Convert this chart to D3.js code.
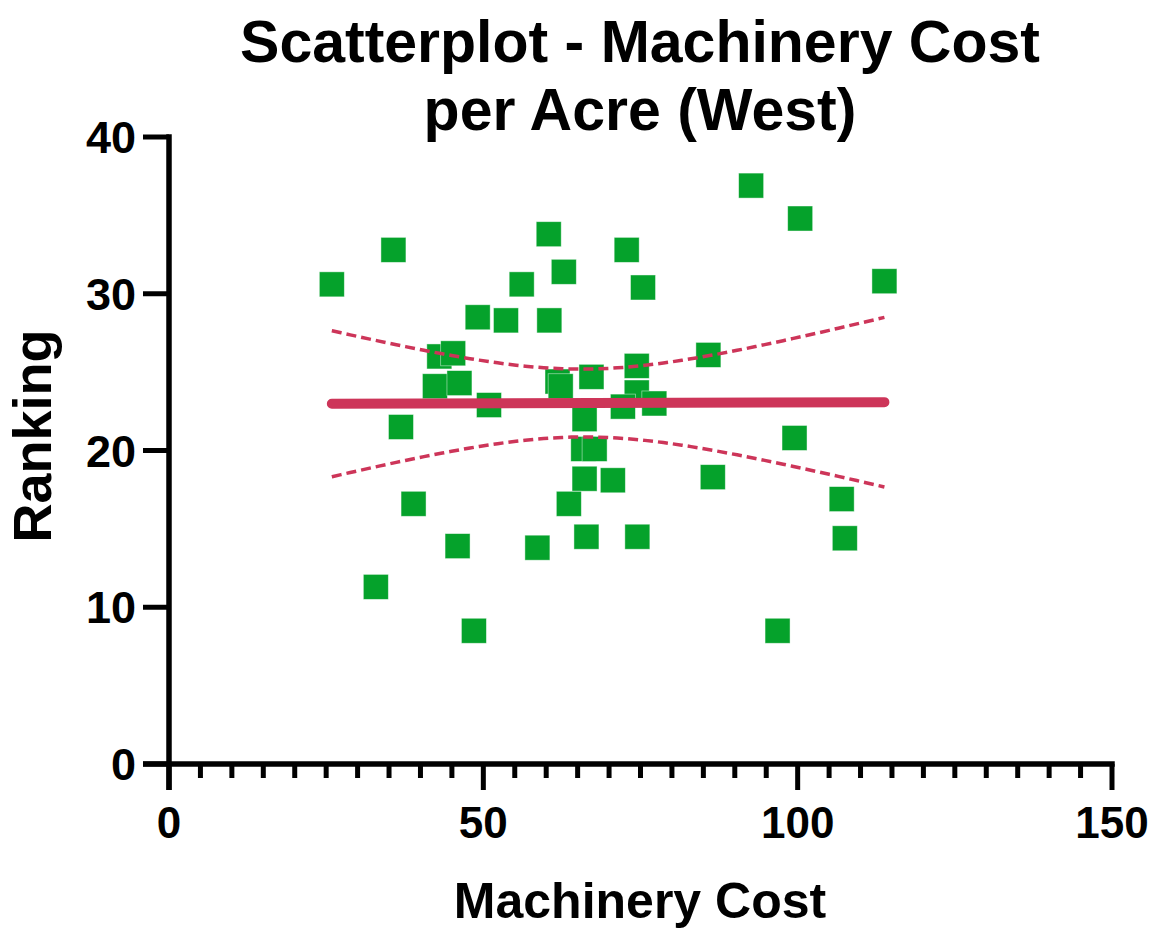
<!DOCTYPE html>
<html>
<head>
<meta charset="utf-8">
<script src="https://cdn.jsdelivr.net/npm/d3@7"></script>
<style>
  html, body { margin: 0; padding: 0; background: #fff; }
  svg { display: block; }
  text { font-family: "Liberation Sans", Arial, Helvetica, sans-serif; font-weight: bold; fill: #000; }
</style>
</head>
<body>
<div id="chart"></div>
<script>
// Machinery cost per acre (x) vs ranking (y), West region
const machineryCost = [
  25.9, 35.7, 60.4, 62.8, 56.1, 49.1, 53.6, 60.5, 43.0, 45.2,
  42.3, 46.2, 50.9, 61.8, 62.3, 67.2, 36.9, 38.9, 45.9, 58.6,
  32.9, 48.5, 66.1, 65.9, 67.7, 66.1, 70.6, 63.6, 66.4, 92.6,
  100.4, 72.8, 75.4, 113.8, 85.8, 74.4, 74.4, 72.2, 77.2, 99.5,
  86.5, 107.0, 107.5, 96.8, 74.5
];
const ranking = [
  30.6, 32.8, 33.8, 31.4, 30.6, 28.5, 28.3, 28.3, 26.0, 26.2,
  24.1, 24.3, 22.9, 24.4, 24.1, 24.7, 21.5, 16.6, 13.9, 13.8,
  11.3, 8.5, 22.0, 20.1, 20.1, 18.2, 18.1, 16.6, 14.5, 36.9,
  34.8, 32.8, 30.4, 30.8, 26.1, 25.4, 23.7, 22.8, 23.0, 20.8,
  18.3, 16.9, 14.4, 8.5, 14.5
];
const xTickLabels = [0, 50, 100, 150];
const yTickLabels = [0, 10, 20, 30, 40];
const titleLines = ['Scatterplot - Machinery Cost', 'per Acre (West)'];

const width = 1159, height = 934;
const pointColor = '#05a22b';
const fitColor = '#cd3559';

const svg = d3.select('#chart').append('svg')
  .attr('width', width)
  .attr('height', height);

const x = d3.scaleLinear().domain([0, 150]).range([169, 1112]);
const y = d3.scaleLinear().domain([0, 40]).range([764, 137]);

// title
svg.append('text')
  .attr('x', 640).attr('y', 62)
  .attr('text-anchor', 'middle')
  .attr('font-size', 59)
  .selectAll('tspan')
  .data(titleLines)
  .join('tspan')
  .attr('x', 640)
  .attr('dy', (d, i) => i === 0 ? 0 : 68)
  .text(d => d);

// points
const points = machineryCost.map((v, i) => ({ x: v, y: ranking[i] }));
const size = 25;
svg.append('g')
  .selectAll('rect')
  .data(points)
  .join('rect')
  .attr('x', d => x(d.x) - size / 2)
  .attr('y', d => y(d.y) - size / 2)
  .attr('width', size)
  .attr('height', size)
  .attr('fill', pointColor)
  .attr('stroke', 'rgba(255,255,255,0.55)')
  .attr('stroke-width', 0.8);

// linear regression with 95% confidence band
const n = points.length;
const mx = d3.mean(points, d => d.x);
const my = d3.mean(points, d => d.y);
const sxx = d3.sum(points, d => (d.x - mx) ** 2);
const sxy = d3.sum(points, d => (d.x - mx) * (d.y - my));
const slope = sxy / sxx;
const intercept = my - slope * mx;
const sse = d3.sum(points, d => (d.y - (intercept + slope * d.x)) ** 2);
const s = Math.sqrt(sse / (n - 2));
const tCrit = 2.0167; // t(0.975, df = 43)
const [xMin, xMax] = d3.extent(points, d => d.x);

const samples = d3.range(0, 61).map(i => {
  const xv = xMin + (xMax - xMin) * i / 60;
  const fit = intercept + slope * xv;
  const half = tCrit * s * Math.sqrt(1 / n + (xv - mx) ** 2 / sxx);
  return { x: xv, fit, lo: fit - half, hi: fit + half };
});

const line = key => d3.line().x(d => x(d.x)).y(d => y(d[key])).curve(d3.curveMonotoneX);

['hi', 'lo'].forEach(key => {
  svg.append('path')
    .datum(samples)
    .attr('d', line(key))
    .attr('fill', 'none')
    .attr('stroke', fitColor)
    .attr('stroke-width', 3.5)
    .attr('stroke-dasharray', '10,5');
});

svg.append('path')
  .datum([samples[0], samples[samples.length - 1]])
  .attr('d', line('fit'))
  .attr('fill', 'none')
  .attr('stroke', fitColor)
  .attr('stroke-width', 10)
  .attr('stroke-linecap', 'round');

// x axis: minor ticks every 5, labelled majors every 50
const axisColor = '#000';
const xAxis = svg.append('g');
xAxis.append('line')
  .attr('x1', x(0) - 26).attr('x2', x(150) + 2.75)
  .attr('y1', y(0)).attr('y2', y(0))
  .attr('stroke', axisColor).attr('stroke-width', 5.5);
xAxis.selectAll('.tick')
  .data(d3.range(0, 151, 5))
  .join('line')
  .attr('x1', d => x(d)).attr('x2', d => x(d))
  .attr('y1', y(0))
  .attr('y2', d => y(0) + (d % 50 === 0 ? 26 : 14))
  .attr('stroke', axisColor)
  .attr('stroke-width', 5);
xAxis.selectAll('text')
  .data(xTickLabels)
  .join('text')
  .attr('x', d => x(d))
  .attr('y', 838)
  .attr('text-anchor', 'middle')
  .attr('font-size', 44)
  .text(d => d);

// y axis
const yAxis = svg.append('g');
yAxis.append('line')
  .attr('x1', x(0)).attr('x2', x(0))
  .attr('y1', y(0) + 26).attr('y2', y(40) - 2.75)
  .attr('stroke', axisColor).attr('stroke-width', 5.5);
yAxis.selectAll('.tick')
  .data(yTickLabels)
  .join('line')
  .attr('x1', x(0) - 26).attr('x2', x(0))
  .attr('y1', d => y(d)).attr('y2', d => y(d))
  .attr('stroke', axisColor)
  .attr('stroke-width', 5);
yAxis.selectAll('text')
  .data(yTickLabels)
  .join('text')
  .attr('x', 136)
  .attr('y', d => y(d) + 16)
  .attr('text-anchor', 'end')
  .attr('font-size', 45)
  .text(d => d);

// axis titles
svg.append('text')
  .attr('x', 640).attr('y', 918)
  .attr('text-anchor', 'middle')
  .attr('font-size', 50)
  .text('Machinery Cost');

svg.append('text')
  .attr('transform', 'translate(51,436) rotate(-90)')
  .attr('text-anchor', 'middle')
  .attr('font-size', 54)
  .text('Ranking');
</script>
</body>
</html>
